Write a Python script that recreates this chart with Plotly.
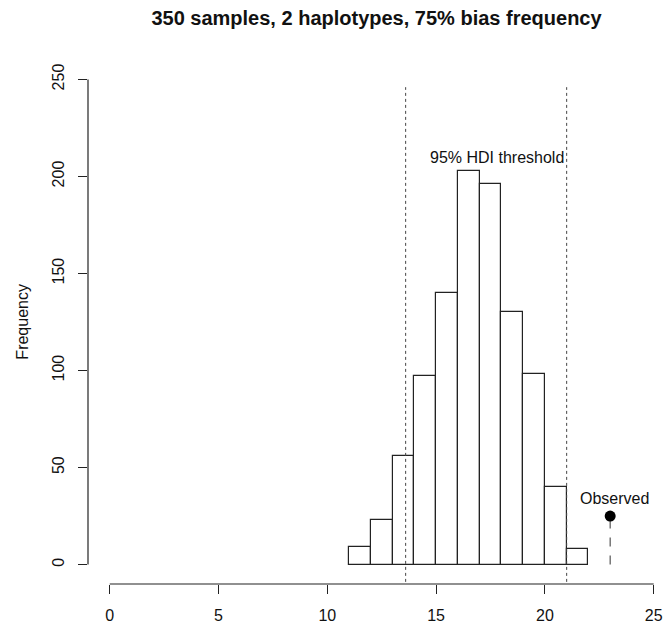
import plotly.graph_objects as go

# ---- data ----
bin_left = [11, 12, 13, 14, 15, 16, 17, 18, 19, 20, 21]
counts = [9, 23, 56, 97, 140, 203, 196, 130, 98, 40, 8]
bin_width = 1
hdi_lower = 13.6
hdi_upper = 21.0
observed_x = 23
observed_y = 25
x_ticks = [0, 5, 10, 15, 20, 25]
y_ticks = [0, 50, 100, 150, 200, 250]
title_text = "350 samples, 2 haplotypes, 75% bias frequency"

FONT = "Liberation Sans, Arial, Helvetica, sans-serif"
INK = "#222222"

centers = [b + bin_width / 2 for b in bin_left]

fig = go.Figure()
fig.add_trace(go.Bar(
    x=centers, y=counts, width=[bin_width] * len(counts),
    marker=dict(color="white", line=dict(color=INK, width=1.2)),
    hoverinfo="x+y", showlegend=False,
))

# HDI threshold lines
for v in (hdi_lower, hdi_upper):
    fig.add_shape(type="line", xref="x", yref="y", x0=v, x1=v, y0=-12, y1=246,
                  line=dict(color="#444444", width=1, dash="dot"), layer="above")

# observed
fig.add_trace(go.Scatter(
    x=[observed_x, observed_x], y=[0, observed_y], mode="lines",
    line=dict(color="#555555", width=1.2, dash="dash"), showlegend=False, hoverinfo="skip"))
fig.add_trace(go.Scatter(
    x=[observed_x], y=[observed_y], mode="markers",
    marker=dict(color="black", size=11), showlegend=False, cliponaxis=False))

# custom axis lines (R style, span first..last tick)
fig.add_shape(type="line", xref="x", yref="paper", x0=x_ticks[0], x1=x_ticks[-1], y0=0, y1=0,
              line=dict(color=INK, width=1.2), layer="above")
fig.add_shape(type="line", xref="paper", yref="y", x0=0, x1=0, y0=y_ticks[0], y1=y_ticks[-1],
              line=dict(color=INK, width=1.2), layer="above")

fig.add_annotation(x=17.8, y=210, text="95% HDI threshold", showarrow=False,
                   font=dict(family=FONT, size=16, color="#111111"))
fig.add_annotation(x=23.2, y=34, text="Observed", showarrow=False,
                   font=dict(family=FONT, size=16, color="#111111"))
fig.add_annotation(xref="paper", yref="paper", x=-0.115, y=0.5, xanchor="center", yanchor="middle",
                   text="Frequency", textangle=-90, showarrow=False,
                   font=dict(family=FONT, size=16, color="#111111"))

fig.update_layout(
    width=665, height=627,
    margin=dict(l=88, r=0, t=60, b=43),
    paper_bgcolor="white", plot_bgcolor="white",
    font=dict(family=FONT, size=16, color="#111111"),
    title=dict(text="<b>" + title_text + "</b>", x=0.5, xref="paper", xanchor="center",
               y=1 - 18 / 627, yanchor="middle", font=dict(family=FONT, size=20, color="#111111")),
    bargap=0,
    xaxis=dict(range=[-1, 25.52], tickvals=x_ticks, showgrid=False, zeroline=False, showline=False,
               ticks="outside", ticklen=9, tickcolor=INK, tickwidth=1.2, ticklabelstandoff=8,
               fixedrange=True),
    yaxis=dict(range=[-10, 260], tickvals=y_ticks, showgrid=False, zeroline=False, showline=False,
               ticks="outside", ticklen=9, tickcolor=INK, tickwidth=1.2, tickangle=-90,
               ticklabelstandoff=8, fixedrange=True),
)

fig.write_html("out.html")
